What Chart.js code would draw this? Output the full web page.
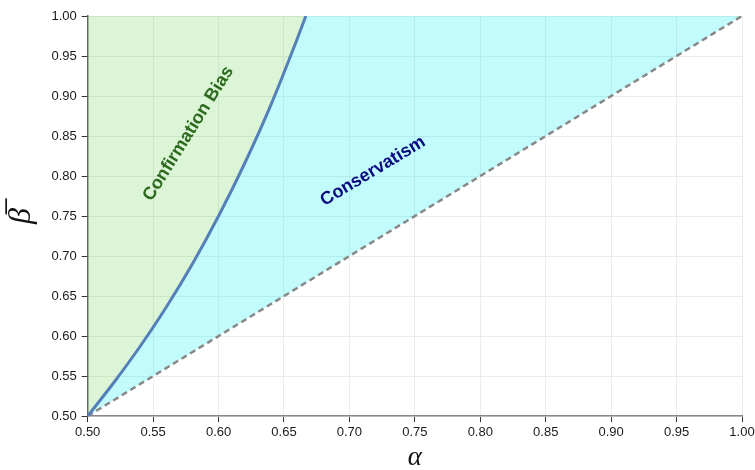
<!DOCTYPE html>
<html>
<head>
<meta charset="utf-8">
<script src="https://cdn.jsdelivr.net/npm/chart.js@4/dist/chart.umd.min.js"></script>
<style>
  body { margin: 0; background: #fff; }
  #wrap { width: 755px; height: 470px; }
</style>
</head>
<body>
<div id="wrap"><canvas id="myChart" width="755" height="470"></canvas></div>
<script>
// values
const alphaCurve = [0.50, 0.52, 0.54, 0.56, 0.58, 0.60, 0.62, 0.64, 0.66, 0.6667];
const betaCurve  = [0.500, 0.542, 0.587, 0.636, 0.690, 0.750, 0.816, 0.889, 0.971, 1.000];
const alphaDiag = [0.50, 1.00];
const betaDiag  = [0.50, 1.00];
const axisTicks = ['0.50', '0.55', '0.60', '0.65', '0.70', '0.75', '0.80', '0.85', '0.90', '0.95', '1.00'];
const regionLabels = ['Confirmation Bias', 'Conservatism'];
const regionAt = [[0.577, 0.853], [0.718, 0.806]];

const curvePts = alphaCurve.map((a, i) => ({ x: a, y: betaCurve[i] }));
const diagPts = alphaDiag.map((a, i) => ({ x: a, y: betaDiag[i] }));
const upperPts = curvePts.concat([{ x: 1.0, y: 1.0 }]);

const labelPlugin = {
  id: 'regionLabels',
  afterDatasetsDraw(chart) {
    const { ctx, scales } = chart;
    const styles = [
      { color: '#2d6a1f', angle: -58, font: 'bold 18px "Liberation Sans", Arial' },
      { color: '#0a0a80', angle: -31, font: 'bold 18px "Liberation Sans", Arial' }
    ];
    regionLabels.forEach((txt, i) => {
      const px = scales.x.getPixelForValue(regionAt[i][0]);
      const py = scales.y.getPixelForValue(regionAt[i][1]);
      ctx.save();
      ctx.translate(px, py);
      ctx.rotate(styles[i].angle * Math.PI / 180);
      ctx.font = styles[i].font;
      ctx.fillStyle = styles[i].color;
      ctx.textAlign = 'center';
      ctx.textBaseline = 'middle';
      ctx.fillText(txt, 0, 0);
      ctx.restore();
    });
  }
};

const tickFmt = (v) => {
  const s = Number(v).toFixed(2);
  return axisTicks.includes(s) ? s : '';
};

new Chart('myChart', {
  type: 'scatter',
  data: {
    datasets: [
      {
        label: 'curve',
        data: curvePts,
        showLine: true,
        borderColor: '#557fb8',
        borderWidth: 3,
        pointRadius: 0,
        cubicInterpolationMode: 'monotone',
        fill: { target: 'end', above: 'rgba(75,205,50,0.2)', below: 'rgba(75,205,50,0.2)' },
        order: 1
      },
      {
        label: 'upper',
        data: upperPts,
        showLine: true,
        borderWidth: 0,
        borderColor: 'rgba(0,0,0,0)',
        pointRadius: 0,
        cubicInterpolationMode: 'monotone',
        fill: { target: 2, above: 'rgba(0,240,240,0.24)', below: 'rgba(0,240,240,0.24)' },
        order: 3
      },
      {
        label: 'diagonal',
        data: diagPts,
        showLine: true,
        borderColor: '#888888',
        borderWidth: 2.5,
        borderDash: [6, 4],
        pointRadius: 0,
        fill: false,
        order: 2
      }
    ]
  },
  options: {
    responsive: false,
    animation: false,
    layout: { padding: { top: 16, right: 0, bottom: 0, left: 2 } },
    plugins: {
      legend: { display: false },
      tooltip: { enabled: false }
    },
    scales: {
      x: {
        type: 'linear',
        min: 0.5, max: 1.0,
        afterFit: (s) => { s.paddingRight = 13; },
        ticks: { stepSize: 0.05, callback: tickFmt, color: '#1a1a1a', font: { size: 13, family: '"Liberation Sans", Arial' }, padding: 3, maxRotation: 0 },
        grid: { color: '#ececec', tickColor: '#333', tickLength: 6 },
        border: { color: '#888', width: 1.5 },
        title: { display: true, text: 'α', font: { size: 27, style: 'italic', family: '"Liberation Serif", "DejaVu Serif"', lineHeight: 0.9 }, color: '#111', padding: { top: 2, bottom: 0 } }
      },
      y: {
        type: 'linear',
        min: 0.5, max: 1.0,
        ticks: { stepSize: 0.05, callback: tickFmt, color: '#1a1a1a', font: { size: 13, family: '"Liberation Sans", Arial' }, padding: 5 },
        grid: { color: '#ececec', tickColor: '#333', tickLength: 6 },
        border: { color: '#666', width: 1.5 },
        title: { display: true, text: 'β̅', font: { size: 32, style: 'italic', family: '"Liberation Serif", "DejaVu Serif"' }, color: '#111', padding: { top: 0, bottom: 6 } }
      }
    }
  },
  plugins: [labelPlugin]
});
</script>
</body>
</html>
